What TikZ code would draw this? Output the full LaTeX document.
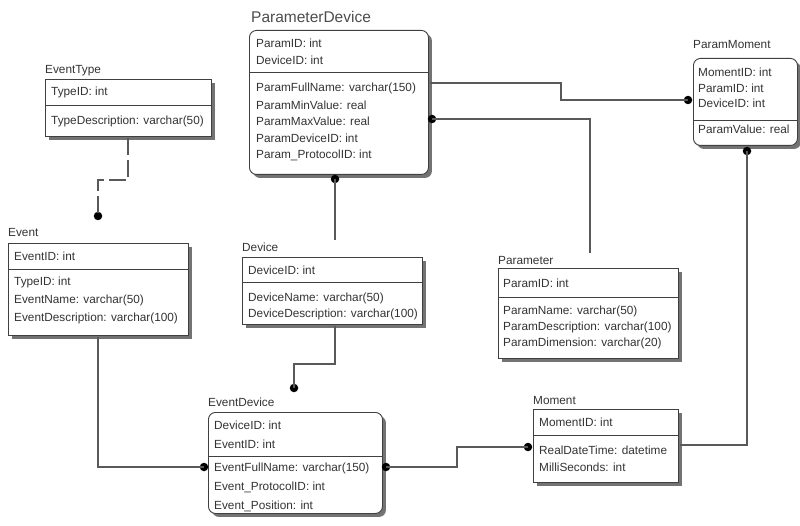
\documentclass[tikz,border=0pt]{standalone}
\usepackage{fontspec}
\setmainfont{Liberation Sans}
\usetikzlibrary{shadows}
\begin{document}
\begin{tikzpicture}[x=1pt,y=-1pt,
  ent/.style={draw=black!75, line width=0.9pt, fill=white, anchor=north west,
    inner sep=0pt, drop shadow={shadow xshift=3.5pt, shadow yshift=-3.5pt, fill=black!55, opacity=1}},
  rent/.style={ent, rounded corners=7pt},
  divider/.style={draw=black!75, line width=0.9pt},
  fld/.style={anchor=west, inner sep=0pt, text=black!80, font=\fontsize{11.8}{13}\selectfont},
  ttl/.style={fld},
  bigttl/.style={anchor=west, inner sep=0pt, text=black!70, font=\fontsize{15.5}{17}\selectfont},
  link/.style={draw=black!65, line width=1.1pt},
  rel/.style={link, dash pattern=on 17pt off 5pt},
  dot/.style={circle, fill=black, inner sep=0pt, minimum size=8.5pt}]
\useasboundingbox (0,0) rectangle (800,526);

% ---------- ParameterDevice ----------
\node[rent, minimum width=179pt, minimum height=144pt] (pd) at (249,30) {};
\draw[divider] (pd.west |- 0,72) -- (pd.east |- 0,72);
\node[bigttl] (pd-t) at (251,17) {ParameterDevice};
\node[fld] (pd-1) at (256,43) {ParamID: int};
\node[fld] (pd-2) at (256,60) {DeviceID: int};
\node[fld] (pd-3) at (256,88) {ParamFullName: varchar(150)};
\node[fld] (pd-4) at (256,105) {ParamMinValue: real};
\node[fld] (pd-5) at (256,121) {ParamMaxValue: real};
\node[fld] (pd-6) at (256,138) {ParamDeviceID: int};
\node[fld] (pd-7) at (256,155) {Param\_ProtocolID: int};

% ---------- EventType ----------
\node[ent, minimum width=166pt, minimum height=57pt] (et) at (45,79) {};
\draw[divider] (et.west |- 0,105) -- (et.east |- 0,105);
\node[ttl] (et-t) at (45,71) {EventType};
\node[fld] (et-1) at (51,92) {TypeID: int};
\node[fld] (et-2) at (51,121) {TypeDescription: varchar(50)};

% ---------- Event ----------
\node[ent, minimum width=180pt, minimum height=92pt] (ev) at (8,243) {};
\draw[divider] (ev.west |- 0,269) -- (ev.east |- 0,269);
\node[ttl] (ev-t) at (8,232) {Event};
\node[fld] (ev-1) at (14,256) {EventID: int};
\node[fld] (ev-2) at (14,282) {TypeID: int};
\node[fld] (ev-3) at (14,300) {EventName: varchar(50)};
\node[fld] (ev-4) at (14,318) {EventDescription: varchar(100)};

% ---------- Device ----------
\node[ent, minimum width=180pt, minimum height=67pt] (dv) at (242,257) {};
\draw[divider] (dv.west |- 0,282) -- (dv.east |- 0,282);
\node[ttl] (dv-t) at (242,247) {Device};
\node[fld] (dv-1) at (248,270) {DeviceID: int};
\node[fld] (dv-2) at (248,298) {DeviceName: varchar(50)};
\node[fld] (dv-3) at (248,314) {DeviceDescription: varchar(100)};

% ---------- Parameter ----------
\node[ent, minimum width=180pt, minimum height=90pt] (pa) at (498,268) {};
\draw[divider] (pa.west |- 0,297) -- (pa.east |- 0,297);
\node[ttl] (pa-t) at (498,260) {Parameter};
\node[fld] (pa-1) at (503,283) {ParamID: int};
\node[fld] (pa-2) at (503,311) {ParamName: varchar(50)};
\node[fld] (pa-3) at (503,327) {ParamDescription: varchar(100)};
\node[fld] (pa-4) at (503,343) {ParamDimension: varchar(20)};

% ---------- ParamMoment ----------
\node[rent, minimum width=104pt, minimum height=87pt] (pm) at (693,58) {};
\draw[divider] (pm.west |- 0,120) -- (pm.east |- 0,120);
\node[ttl] (pm-t) at (693,45) {ParamMoment};
\node[fld] (pm-1) at (698,72) {MomentID: int};
\node[fld] (pm-2) at (698,88) {ParamID: int};
\node[fld] (pm-3) at (698,103) {DeviceID: int};
\node[fld] (pm-4) at (698,129) {ParamValue: real};

% ---------- Moment ----------
\node[ent, minimum width=145pt, minimum height=73pt] (mo) at (533,409) {};
\draw[divider] (mo.west |- 0,435) -- (mo.east |- 0,435);
\node[ttl] (mo-t) at (533,400) {Moment};
\node[fld] (mo-1) at (539,422) {MomentID: int};
\node[fld] (mo-2) at (539,450) {RealDateTime: datetime};
\node[fld] (mo-3) at (539,467) {MilliSeconds: int};

% ---------- EventDevice ----------
\node[rent, minimum width=174pt, minimum height=101pt] (ed) at (208,412) {};
\draw[divider] (ed.west |- 0,456) -- (ed.east |- 0,456);
\node[ttl] (ed-t) at (208,402) {EventDevice};
\node[fld] (ed-1) at (214,425) {DeviceID: int};
\node[fld] (ed-2) at (214,444) {EventID: int};
\node[fld] (ed-3) at (214,468) {EventFullName: varchar(150)};
\node[fld] (ed-4) at (214,487) {Event\_ProtocolID: int};
\node[fld] (ed-5) at (214,506) {Event\_Position: int};

% ---------- relationship end points ----------
\coordinate (pd-r1) at (430,83);
\coordinate (pa-top) at (590,253);
\coordinate (dv-top) at (335,240);
\coordinate (dv-bot) at (335,326);
\coordinate (et-bot) at (128,138);
\coordinate (ev-bot) at (98,337);
\coordinate (mo-r) at (680,445);

\node[dot] (pm-dl) at (688,100) {};
\node[dot] (pm-db) at (747,151) {};
\node[dot] (pd-db) at (335,179) {};
\node[dot] (pd-dr) at (432,119) {};
\node[dot] (ev-dt) at (98,216) {};
\node[dot] (ed-dt) at (294,388) {};
\node[dot] (ed-dl) at (204,467) {};
\node[dot] (ed-dr) at (386,467) {};
\node[dot] (mo-dl) at (528,447) {};

% ---------- connectors ----------
\draw[link] (pd-r1) -- (561,83) -- (561,100) -- (pm-dl.center);
\draw[link] (pd-dr.center) -| (pa-top);
\draw[link] (pd-db.center) -- (dv-top);
\draw[link] (dv-bot) -- (335,364) -| (ed-dt.center);
\draw[rel] (et-bot) -- (128,180) -| (ev-dt.center);
\draw[link] (ev-bot) |- (ed-dl.center);
\draw[link] (ed-dr.center) -- (457,467) |- (mo-dl.center);
\draw[link] (mo-r) -| (pm-db.center);
\end{tikzpicture}
\end{document}
